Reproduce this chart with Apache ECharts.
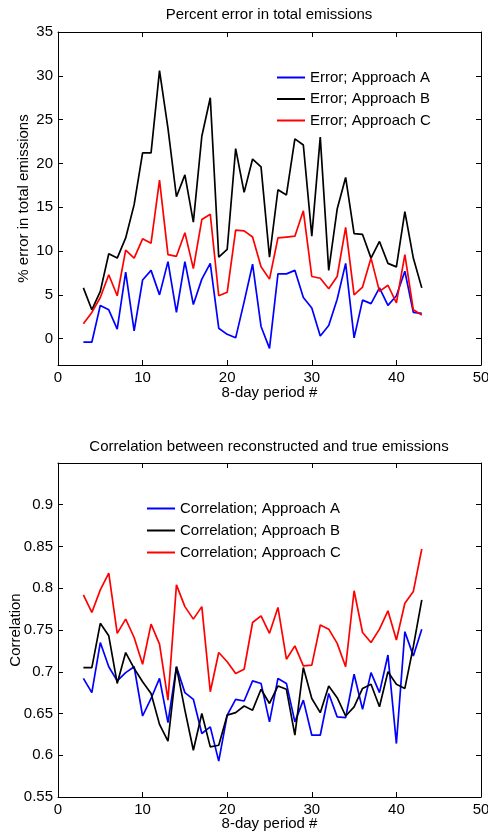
<!DOCTYPE html>
<html><head><meta charset="utf-8">
<script src="https://cdn.jsdelivr.net/npm/echarts@6/dist/echarts.min.js"></script>
<style>html,body{margin:0;padding:0;background:#fff}#c{width:488px;height:835px}</style>
</head><body><div id="c"></div>
<script>
const periods = [3,4,5,6,7,8,9,10,11,12,13,14,15,16,17,18,19,20,21,22,23,24,25,26,27,28,29,30,31,32,33,34,35,36,37,38,39,40,41,42,43];
const errA = [-0.4,-0.4,3.8,3.3,1.1,7.6,0.9,6.7,7.8,5.0, 8.8,3.0,8.8,3.9,6.8,8.6,1.2,0.5,0.1,4.2, 8.5,1.4,-1.1,7.4,7.4,7.8,4.7,3.5,0.3,1.5, 4.5,8.6,0.1,4.4,4.0,5.8,3.8,4.9,7.7,3.0, 2.9];
const errB = [5.8,3.3,5.4,9.7,9.2,11.5,15.3,21.2,21.2,30.6, 24.0,16.2,18.7,13.3,23.1,27.5,9.3,10.2,21.7,16.7, 20.5,19.6,9.3,17.0,16.4,22.8,22.1,11.7,23.0,7.8, 14.8,18.4,12.0,11.9,9.2,11.1,8.6,8.2,14.5,9.2, 5.8];
const errC = [1.7,3.0,4.7,7.3,4.9,10.1,9.2,11.4,10.9,18.1, 9.6,9.4,12.1,8.0,13.6,14.2,4.9,5.3,12.4,12.3, 11.6,8.2,6.8,11.5,11.6,11.7,14.6,7.1,6.9,5.7, 7.1,12.7,5.0,5.9,9.2,5.4,6.1,4.1,9.6,3.3, 2.7];
const corA = [0.692,0.675,0.735,0.706,0.689,0.699,0.706,0.647,0.668,0.692, 0.639,0.706,0.675,0.667,0.626,0.634,0.593,0.648,0.667,0.665, 0.689,0.686,0.640,0.692,0.686,0.640,0.666,0.624,0.624,0.674, 0.646,0.645,0.697,0.655,0.699,0.675,0.720,0.614,0.748,0.719, 0.751];
const corB = [0.705,0.705,0.758,0.743,0.686,0.723,0.704,0.688,0.674,0.637, 0.617,0.706,0.654,0.606,0.650,0.610,0.612,0.648,0.651,0.659, 0.654,0.679,0.662,0.683,0.679,0.624,0.705,0.668,0.651,0.683, 0.669,0.647,0.658,0.680,0.685,0.658,0.700,0.685,0.680,0.730, 0.786];
const corC = [0.792,0.771,0.798,0.818,0.746,0.763,0.741,0.709,0.757,0.733, 0.666,0.804,0.778,0.763,0.778,0.676,0.723,0.712,0.698,0.703, 0.759,0.767,0.746,0.777,0.715,0.731,0.707,0.708,0.756,0.751, 0.734,0.706,0.797,0.747,0.735,0.751,0.773,0.738,0.782,0.796, 0.847];
const xTicks = [0,10,20,30,40,50];
const errTicks = [0,5,10,15,20,25,30,35];
const corTicks = [0.55,0.6,0.65,0.7,0.75,0.8,0.85,0.9];
const errNames = ['Error; Approach A','Error; Approach B','Error; Approach C'];
const corNames = ['Correlation; Approach A','Correlation; Approach B','Correlation; Approach C'];
const colors = ['#0000ff','#000000','#ff0000'];

const FONT = 'Liberation Sans, Arial, Helvetica, sans-serif';
const FS = 15;
const chart = echarts.init(document.getElementById('c'), null, {renderer:'canvas'});
const axLine = {show:true, onZero:false, lineStyle:{color:'#000', width:1}};
const tick = {show:true, inside:true, length:5, lineStyle:{color:'#000', width:1}};
const lbl = {color:'#000', fontSize:FS, fontFamily:FONT};
const nameStyle = {color:'#000', fontSize:FS, fontFamily:FONT};

function xAx(grid, pos, name, gap) {
  const main = pos === 'bottom';
  return {type:'value', gridIndex:grid, position:pos, min:0, max:50,
    axisLine:axLine, axisTick:Object.assign({}, tick, {customValues:xTicks}),
    axisLabel:Object.assign({show:main, margin:5, customValues:xTicks}, lbl),
    splitLine:{show:false}, nameMoveOverlap:false,
    name: main ? name : '', nameLocation:'middle', nameGap:gap, nameTextStyle:nameStyle};
}
function yAx(grid, pos, min, max, ticks, name, gap, fmt) {
  const main = pos === 'left';
  return {type:'value', gridIndex:grid, position:pos, min:min, max:max,
    axisLine:axLine, axisTick:Object.assign({}, tick, {customValues:ticks}),
    axisLabel:Object.assign({show:main, margin:5, customValues:ticks, formatter:fmt}, lbl),
    splitLine:{show:false}, nameMoveOverlap:false,
    name: main ? name : '', nameLocation:'middle', nameGap:gap, nameTextStyle:nameStyle};
}
function mk(names, arrs, xi, yi) {
  return names.map((n,k)=>({
    name:n, type:'line', xAxisIndex:xi, yAxisIndex:yi, symbol:'none', animation:false,
    lineStyle:{color:colors[k], width:1.7}, itemStyle:{color:colors[k]},
    data: periods.map((p,i)=>[p, arrs[k][i]])
  }));
}
const corFmt = v => String(+v.toFixed(2));
const legendCommon = {orient:'vertical', padding:0, icon:'rect', itemWidth:28, itemHeight:2,
  textStyle:{fontSize:FS, lineHeight:15, color:'#000', fontFamily:FONT}};

chart.setOption({
  animation:false,
  backgroundColor:'#fff',
  title:[
    {text:'Percent error in total emissions', left:269, textAlign:'center', top:7, padding:0,
     textStyle:{fontSize:FS, fontWeight:'normal', color:'#000', fontFamily:FONT}},
    {text:'Correlation between reconstructed and true emissions', left:269, textAlign:'center', top:439, padding:0,
     textStyle:{fontSize:FS, fontWeight:'normal', color:'#000', fontFamily:FONT}}
  ],
  grid:[
    {left:58, right:7, top:32, height:333, show:false, containLabel:false, outerBoundsMode:'none'},
    {left:58, right:7, top:463, height:334, show:false, containLabel:false, outerBoundsMode:'none'}
  ],
  xAxis:[
    xAx(0,'bottom','8-day period #',20), xAx(0,'top'),
    xAx(1,'bottom','8-day period #',19), xAx(1,'top')
  ],
  yAxis:[
    yAx(0,'left',-3,35,errTicks,'% error in total emissions',27),
    yAx(0,'right',-3,35,errTicks),
    yAx(1,'left',0.55,0.95,corTicks,'Correlation',35,corFmt),
    yAx(1,'right',0.55,0.95,corTicks)
  ],
  legend:[
    Object.assign({data:errNames, left:277, top:70, itemGap:6.5}, legendCommon),
    Object.assign({data:corNames, left:147, top:501, itemGap:7}, legendCommon)
  ],
  series:[].concat(mk(errNames,[errA,errB,errC],0,0), mk(corNames,[corA,corB,corC],2,2))
});
</script></body></html>
